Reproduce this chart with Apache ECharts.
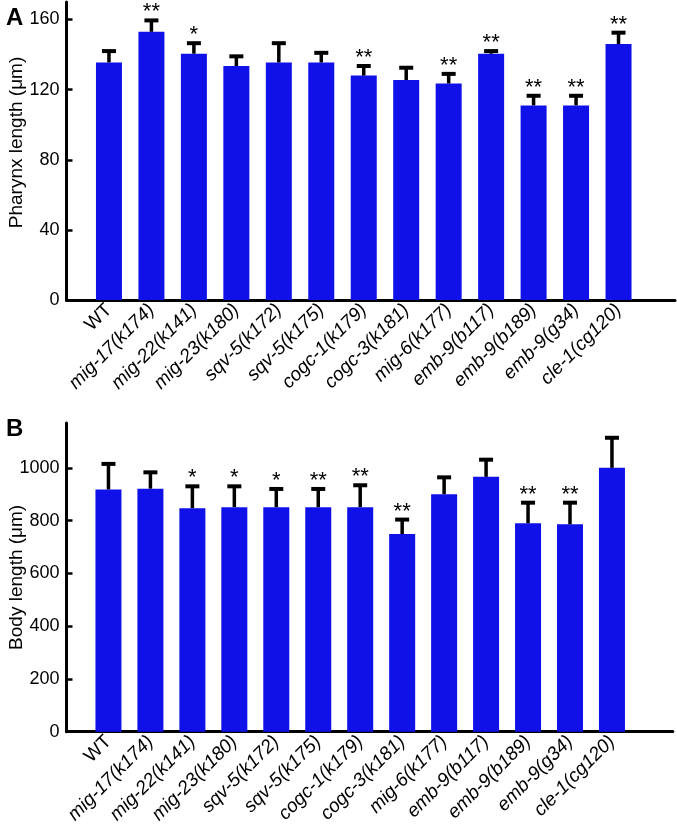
<!DOCTYPE html>
<html>
<head>
<meta charset="utf-8">
<script src="https://cdn.jsdelivr.net/npm/echarts@6/dist/echarts.min.js"></script>
<style>
html,body{margin:0;padding:0;background:#fff;}
#chart{width:677px;height:824px;}
</style>
</head>
<body>
<div id="chart"></div>
<script>
const categories = ['WT','mig-17(k174)','mig-22(k141)','mig-23(k180)','sqv-5(k172)','sqv-5(k175)','cogc-1(k179)','cogc-3(k181)','mig-6(k177)','emb-9(b117)','emb-9(b189)','emb-9(g34)','cle-1(cg120)'];
const pharynxMean = [135.5,153,140.5,133.5,135.5,135.5,128,125.5,123.5,140.5,111,111,146];
const pharynxSD   = [6.5,6.5,6,5.5,11,5.5,5.5,7,5.5,1.5,5.5,5.5,6.5];
const pharynxSig  = ['','**','*','','','','**','','**','**','**','**','**'];
const bodyMean = [918,921,847,851,851,851,851,749,900,966,790,786,1000];
const bodySD   = [97,62,83,79,69,69,83,55,64,65,78,82,114];
const bodySig  = ['','','*','*','*','**','**','**','','','**','**',''];
const pharynxTicks = [0,40,80,120,160];
const bodyTicks = [0,200,400,600,800,1000];

const FONT = "'Liberation Sans', Arial, Helvetica, sans-serif";
const BLUE = '#1010e8';
const catIdx = categories.map((c,i)=>i);

function xAxisCfg(gi, max){
  return {
    type:'value', gridIndex:gi, min:-1, max:max,
    axisLine:{onZero:false, lineStyle:{color:'#000', width:3}},
    axisTick:{show:false}, splitLine:{show:false},
    axisLabel:{
      customValues: catIdx, rotate:45, margin:7, color:'#000', fontSize:19, fontFamily:FONT,
      formatter:function(v){
        const n = categories[Math.round(v)];
        if (n === undefined) return '';
        return n === 'WT' ? '{n|WT}' : '{i|' + n + '}';
      },
      rich:{
        n:{fontSize:19, fontFamily:FONT, color:'#000'},
        i:{fontSize:19, fontFamily:FONT, fontStyle:'italic', color:'#000'}
      }
    }
  };
}
function yAxisCfg(gi, max, ticks, name, pad){
  return {
    type:'value', gridIndex:gi, min:0, max:max,
    name:name, nameLocation:'middle', nameRotate:90, nameGap:40, nameMoveOverlap:false,
    nameTextStyle:{fontSize:19, fontFamily:FONT, color:'#000', padding:pad},
    axisLine:{onZero:false, lineStyle:{color:'#000', width:3}},
    axisTick:{customValues:ticks, inside:true, length:6, lineStyle:{color:'#000', width:2.5}},
    splitLine:{show:false},
    axisLabel:{customValues:ticks, margin:7, color:'#000', fontSize:18, fontFamily:FONT,
      formatter:function(v){ return String(v); }}
  };
}
function errSeries(gi, mean, sd, sig){
  return {
    type:'custom', xAxisIndex:gi, yAxisIndex:gi, z:5,
    encode:{x:0, y:1},
    data: mean.map((m,i)=>[i, m, sd[i]]),
    renderItem:function(params, api){
      const i = api.value(0), m = api.value(1), s = api.value(2);
      const p0 = api.coord([i, m]);
      const p1 = api.coord([i, m + s]);
      const children = [
        {type:'line', shape:{x1:p0[0], y1:p0[1], x2:p1[0], y2:p1[1]}, style:{stroke:'#000', lineWidth:3.5}},
        {type:'line', shape:{x1:p1[0]-7, y1:p1[1], x2:p1[0]+7, y2:p1[1]}, style:{stroke:'#000', lineWidth:4}}
      ];
      const t = sig[params.dataIndex];
      if (t) {
        children.push({type:'text', style:{text:t, x:p1[0], y:p1[1]+3, align:'center', verticalAlign:'bottom',
          font:'22px ' + FONT, fill:'#000'}});
      }
      return {type:'group', children:children};
    }
  };
}

const chart = echarts.init(document.getElementById('chart'), null, {renderer:'canvas'});
chart.setOption({
  backgroundColor:'#fff',
  animation:false,
  title:[
    {text:'A', left:1, top:1, textStyle:{fontSize:24, fontWeight:'bold', fontFamily:FONT, color:'#000'}},
    {text:'B', left:1, top:412, textStyle:{fontSize:24, fontWeight:'bold', fontFamily:FONT, color:'#000'}}
  ],
  grid:[
    {left:66.5, top:2, width:608.5, height:298, containLabel:false, outerBoundsMode:'none'},
    {left:66.5, top:423, width:606.3, height:308.7, containLabel:false, outerBoundsMode:'none'}
  ],
  xAxis:[xAxisCfg(0, 13.33), xAxisCfg(1, 13.45)],
  yAxis:[
    yAxisCfg(0, 170, pharynxTicks, 'Pharynx length (μm)', [0,0,0,17]),
    yAxisCfg(1, 1170, bodyTicks, 'Body length (μm)', [0,0,0,0])
  ],
  series:[
    {type:'bar', xAxisIndex:0, yAxisIndex:0, barWidth:26, itemStyle:{color:BLUE},
     data: pharynxMean.map((v,i)=>[i,v])},
    errSeries(0, pharynxMean, pharynxSD, pharynxSig),
    {type:'bar', xAxisIndex:1, yAxisIndex:1, barWidth:26, itemStyle:{color:BLUE},
     data: bodyMean.map((v,i)=>[i,v])},
    errSeries(1, bodyMean, bodySD, bodySig)
  ]
});
</script>
</body>
</html>
